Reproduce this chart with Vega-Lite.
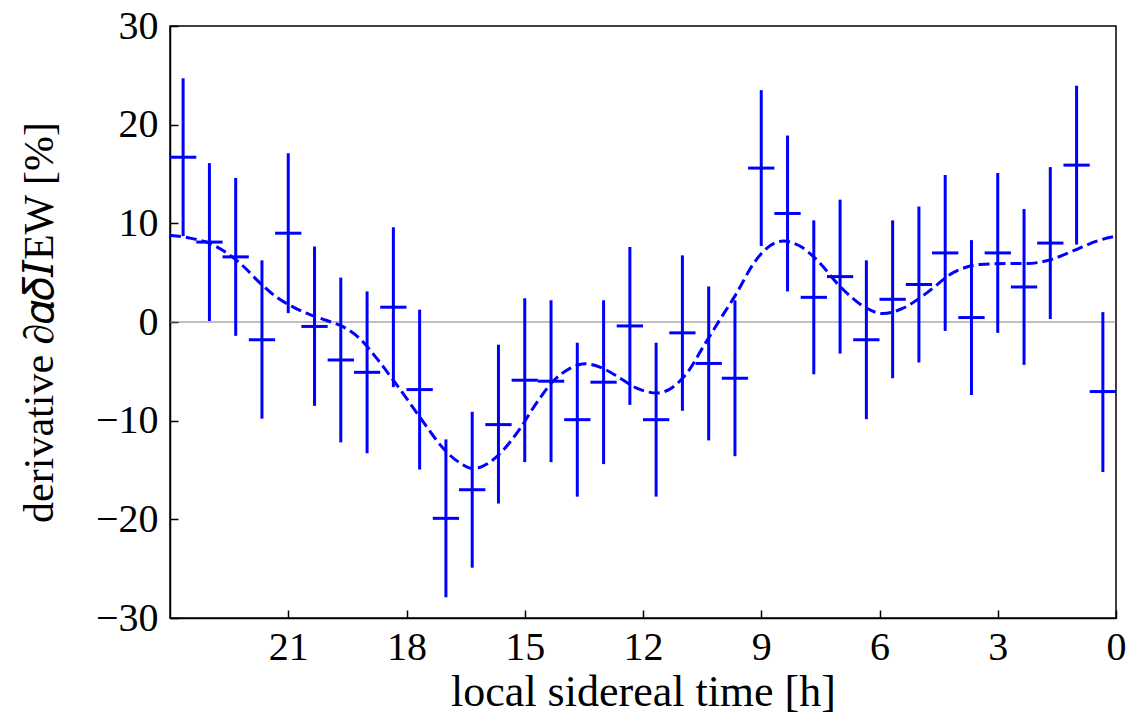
{
  "$schema": "https://vega.github.io/schema/vega-lite/v6.json",
  "width": 946,
  "height": 592,
  "autosize": {"type": "none"},
  "padding": {"left": 170, "top": 26, "right": 21, "bottom": 99},
  "background": "white",
  "config": {
    "view": {"stroke": "black", "strokeWidth": 1.5},
    "axis": {
      "grid": false,
      "domainColor": "black",
      "domainWidth": 1.5,
      "tickColor": "black",
      "tickWidth": 1.5,
      "tickSize": -8,
      "labelFont": "Liberation Serif",
      "labelFontSize": 40,
      "labelColor": "black",
      "titleFont": "Liberation Serif, DejaVu Serif",
      "titleFontSize": 44,
      "titleFontWeight": "normal",
      "titleColor": "black"
    }
  },
  "datasets": {
    "pts": [
      {"h": 23.667, "hlo": 23.333, "hhi": 24.0, "y": 16.7, "ylo": 8.7, "yhi": 24.7},
      {"h": 23.0, "hlo": 22.667, "hhi": 23.333, "y": 8.1, "ylo": 0.1, "yhi": 16.1},
      {"h": 22.333, "hlo": 22.0, "hhi": 22.667, "y": 6.6, "ylo": -1.4, "yhi": 14.6},
      {"h": 21.667, "hlo": 21.333, "hhi": 22.0, "y": -1.8, "ylo": -9.8, "yhi": 6.25},
      {"h": 21.0, "hlo": 20.667, "hhi": 21.333, "y": 9.0, "ylo": 0.9, "yhi": 17.1},
      {"h": 20.333, "hlo": 20.0, "hhi": 20.667, "y": -0.45, "ylo": -8.5, "yhi": 7.65},
      {"h": 19.667, "hlo": 19.333, "hhi": 20.0, "y": -3.85, "ylo": -12.2, "yhi": 4.5},
      {"h": 19.0, "hlo": 18.667, "hhi": 19.333, "y": -5.1, "ylo": -13.3, "yhi": 3.1},
      {"h": 18.333, "hlo": 18.0, "hhi": 18.667, "y": 1.5, "ylo": -6.6, "yhi": 9.6},
      {"h": 17.667, "hlo": 17.333, "hhi": 18.0, "y": -6.85, "ylo": -14.95, "yhi": 1.25},
      {"h": 17.0, "hlo": 16.667, "hhi": 17.333, "y": -19.9, "ylo": -27.9, "yhi": -11.9},
      {"h": 16.333, "hlo": 16.0, "hhi": 16.667, "y": -17.0, "ylo": -24.9, "yhi": -9.1},
      {"h": 15.667, "hlo": 15.333, "hhi": 16.0, "y": -10.4, "ylo": -18.4, "yhi": -2.3},
      {"h": 15.0, "hlo": 14.667, "hhi": 15.333, "y": -5.9, "ylo": -14.2, "yhi": 2.4},
      {"h": 14.333, "hlo": 14.0, "hhi": 14.667, "y": -6.0, "ylo": -14.2, "yhi": 2.2},
      {"h": 13.667, "hlo": 13.333, "hhi": 14.0, "y": -9.9, "ylo": -17.7, "yhi": -2.1},
      {"h": 13.0, "hlo": 12.667, "hhi": 13.333, "y": -6.1, "ylo": -14.4, "yhi": 2.2},
      {"h": 12.333, "hlo": 12.0, "hhi": 12.667, "y": -0.4, "ylo": -8.4, "yhi": 7.6},
      {"h": 11.667, "hlo": 11.333, "hhi": 12.0, "y": -9.9, "ylo": -17.7, "yhi": -2.1},
      {"h": 11.0, "hlo": 10.667, "hhi": 11.333, "y": -1.1, "ylo": -9.0, "yhi": 6.75},
      {"h": 10.333, "hlo": 10.0, "hhi": 10.667, "y": -4.2, "ylo": -12.0, "yhi": 3.6},
      {"h": 9.667, "hlo": 9.333, "hhi": 10.0, "y": -5.7, "ylo": -13.6, "yhi": 2.2},
      {"h": 9.0, "hlo": 8.667, "hhi": 9.333, "y": 15.6, "ylo": 7.7, "yhi": 23.5},
      {"h": 8.333, "hlo": 8.0, "hhi": 8.667, "y": 11.0, "ylo": 3.1, "yhi": 18.9},
      {"h": 7.667, "hlo": 7.333, "hhi": 8.0, "y": 2.5, "ylo": -5.3, "yhi": 10.3},
      {"h": 7.0, "hlo": 6.667, "hhi": 7.333, "y": 4.6, "ylo": -3.2, "yhi": 12.4},
      {"h": 6.333, "hlo": 6.0, "hhi": 6.667, "y": -1.8, "ylo": -9.85, "yhi": 6.25},
      {"h": 5.667, "hlo": 5.333, "hhi": 6.0, "y": 2.3, "ylo": -5.7, "yhi": 10.3},
      {"h": 5.0, "hlo": 4.667, "hhi": 5.333, "y": 3.8, "ylo": -4.1, "yhi": 11.7},
      {"h": 4.333, "hlo": 4.0, "hhi": 4.667, "y": 7.0, "ylo": -0.9, "yhi": 14.9},
      {"h": 3.667, "hlo": 3.333, "hhi": 4.0, "y": 0.45, "ylo": -7.4, "yhi": 8.3},
      {"h": 3.0, "hlo": 2.667, "hhi": 3.333, "y": 7.0, "ylo": -1.1, "yhi": 15.1},
      {"h": 2.333, "hlo": 2.0, "hhi": 2.667, "y": 3.55, "ylo": -4.35, "yhi": 11.45},
      {"h": 1.667, "hlo": 1.333, "hhi": 2.0, "y": 8.0, "ylo": 0.3, "yhi": 15.7},
      {"h": 1.0, "hlo": 0.667, "hhi": 1.333, "y": 15.9, "ylo": 7.85, "yhi": 23.95},
      {"h": 0.333, "hlo": 0.0, "hhi": 0.667, "y": -7.05, "ylo": -15.2, "yhi": 1.0}
    ],
    "curve": [
      {"h": 24.0, "v": 8.8}, {"h": 23.49, "v": 8.5}, {"h": 22.99, "v": 7.96},
      {"h": 22.56, "v": 7.0}, {"h": 22.14, "v": 5.65}, {"h": 21.72, "v": 3.97},
      {"h": 21.29, "v": 2.5}, {"h": 20.87, "v": 1.5}, {"h": 20.45, "v": 0.74},
      {"h": 20.02, "v": 0.15}, {"h": 19.6, "v": -0.5}, {"h": 19.18, "v": -1.7},
      {"h": 18.76, "v": -3.66}, {"h": 18.34, "v": -5.87}, {"h": 17.91, "v": -8.24},
      {"h": 17.49, "v": -10.6}, {"h": 17.07, "v": -12.8}, {"h": 16.64, "v": -14.3},
      {"h": 16.31, "v": -14.85}, {"h": 15.88, "v": -14.2}, {"h": 15.55, "v": -13.0},
      {"h": 15.12, "v": -10.8}, {"h": 14.7, "v": -8.2}, {"h": 14.28, "v": -6.0},
      {"h": 13.85, "v": -4.7}, {"h": 13.47, "v": -4.24}, {"h": 13.02, "v": -4.7},
      {"h": 12.58, "v": -5.7}, {"h": 12.16, "v": -6.7}, {"h": 11.65, "v": -7.2},
      {"h": 11.32, "v": -6.8}, {"h": 10.89, "v": -5.2}, {"h": 10.47, "v": -2.5},
      {"h": 10.05, "v": 0.23}, {"h": 9.62, "v": 2.95}, {"h": 9.2, "v": 5.9},
      {"h": 8.96, "v": 7.1}, {"h": 8.44, "v": 8.2}, {"h": 8.02, "v": 7.7},
      {"h": 7.59, "v": 6.3}, {"h": 7.0, "v": 3.6}, {"h": 6.41, "v": 1.6},
      {"h": 5.91, "v": 0.85}, {"h": 5.4, "v": 1.4}, {"h": 4.8, "v": 2.95},
      {"h": 4.13, "v": 5.0}, {"h": 3.45, "v": 5.83}, {"h": 2.78, "v": 5.93},
      {"h": 2.27, "v": 5.93}, {"h": 1.76, "v": 6.2}, {"h": 1.09, "v": 7.2},
      {"h": 0.49, "v": 8.2}, {"h": 0.0, "v": 8.7}
    ]
  },
  "layer": [
    {
      "data": {"values": [{"z": 0}]},
      "mark": {"type": "rule", "color": "#808080", "strokeWidth": 1},
      "encoding": {
        "y": {"field": "z", "type": "quantitative", "scale": {"domain": [-30, 30], "nice": false}}
      }
    },
    {
      "data": {"name": "curve"},
      "mark": {"type": "line", "color": "#0000ff", "strokeWidth": 3, "strokeDash": [11, 5], "interpolate": "monotone"},
      "encoding": {
        "x": {
          "field": "h", "type": "quantitative",
          "scale": {"domain": [0, 24], "reverse": true, "nice": false, "zero": false},
          "axis": {"values": [0, 3, 6, 9, 12, 15, 18, 21], "title": "local sidereal time [h]", "labelPadding": 17, "titlePadding": 3, "labelFlush": false}
        },
        "y": {
          "field": "v", "type": "quantitative",
          "scale": {"domain": [-30, 30], "nice": false},
          "axis": {"values": [-30, -20, -10, 0, 10, 20, 30], "title": "derivative ∂𝛼𝛿𝐼EW [%]", "titleFontSize": 42, "labelPadding": 20, "titlePadding": 34, "labelFlush": false}
        },
        "order": {"field": "h", "sort": "descending"}
      }
    },
    {
      "data": {"name": "pts"},
      "mark": {"type": "rule", "color": "#0000ff", "strokeWidth": 3},
      "encoding": {
        "x": {"field": "h", "type": "quantitative"},
        "y": {"field": "ylo", "type": "quantitative"},
        "y2": {"field": "yhi"}
      }
    },
    {
      "data": {"name": "pts"},
      "mark": {"type": "rule", "color": "#0000ff", "strokeWidth": 3},
      "encoding": {
        "x": {"field": "hlo", "type": "quantitative"},
        "x2": {"field": "hhi"},
        "y": {"field": "y", "type": "quantitative"}
      }
    }
  ]
}
